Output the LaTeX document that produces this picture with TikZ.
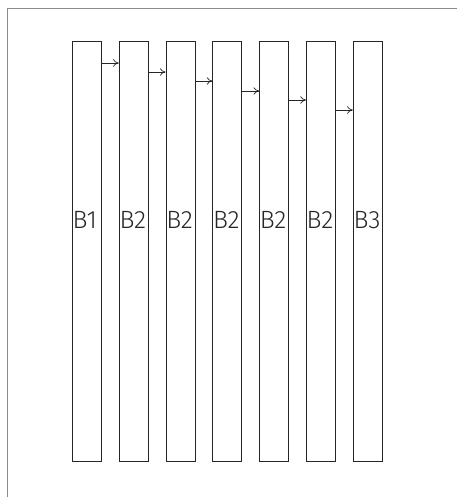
\documentclass[tikz,border=0pt]{standalone}
\usepackage{fontspec}
\newfontfamily\lblfont{Fira Sans}[UprightFont={* Light}]
\usetikzlibrary{positioning,arrows.meta}

\begin{document}
\begin{tikzpicture}[
  x=1pt, y=-1pt,
  every node/.style={font=\lblfont\fontsize{25}{30}\selectfont},
  box/.style={
    rectangle, draw=black!85, line width=0.8pt,
    minimum width=29pt, minimum height=420pt, inner sep=0pt
  },
  lbl/.style={anchor=west, inner sep=0pt, text=black!85},
  arrow/.style={-{To[length=2mm,width=2.6mm]}, line width=0.7pt, black!85}
]
\useasboundingbox (0,0) rectangle (457,497);
\draw[black!45, line width=0.8pt] (7,497) -- (7,8) -- (457,8);

\node[box, anchor=north west] (b1) at (72,41) {};
\node[box, right=17pt of b1] (b2) {};
\node[box, right=17pt of b2] (b3) {};
\node[box, right=17pt of b3] (b4) {};
\node[box, right=17pt of b4] (b5) {};
\node[box, right=17pt of b5] (b6) {};
\node[box, right=17pt of b6] (b7) {};

\node[lbl] (l1) at ([xshift=0.5pt]b1.west |- 0,220) {B1};
\node[lbl] (l2) at ([xshift=0.5pt]b2.west |- 0,220) {B2};
\node[lbl] (l3) at ([xshift=0.5pt]b3.west |- 0,220) {B2};
\node[lbl] (l4) at ([xshift=0.5pt]b4.west |- 0,220) {B2};
\node[lbl] (l5) at ([xshift=0.5pt]b5.west |- 0,220) {B2};
\node[lbl] (l6) at ([xshift=0.5pt]b6.west |- 0,220) {B2};
\node[lbl] (l7) at ([xshift=0.5pt]b7.west |- 0,220) {B3};

\draw[arrow] (b1.east |- 0,63) -- (b2.west |- 0,63);
\draw[arrow] (b2.east |- 0,72) -- (b3.west |- 0,72);
\draw[arrow] (b3.east |- 0,81) -- (b4.west |- 0,81);
\draw[arrow] (b4.east |- 0,91) -- (b5.west |- 0,91);
\draw[arrow] (b5.east |- 0,100) -- (b6.west |- 0,100);
\draw[arrow] (b6.east |- 0,110) -- (b7.west |- 0,110);
\end{tikzpicture}
\end{document}
